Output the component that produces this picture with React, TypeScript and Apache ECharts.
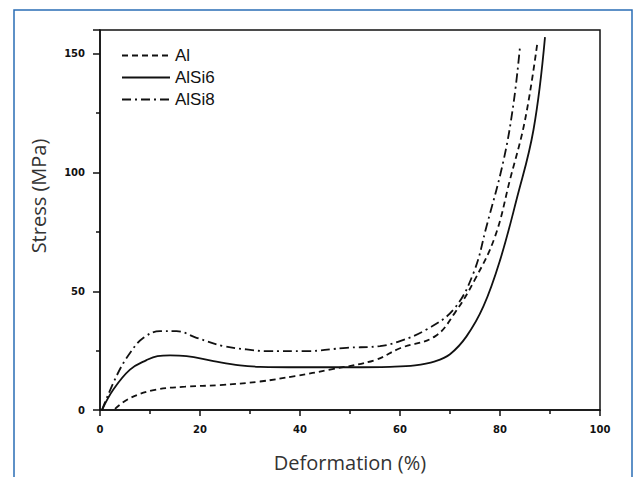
import React, { useEffect, useRef } from "react";
import * as echarts from "echarts";

const seriesNames = ["Al", "AlSi6", "AlSi8"];

const alX = [3, 6, 11, 17, 24, 32, 39, 46, 55, 60, 67, 71, 75, 79, 82, 85, 87.5];
const alY = [0.5, 5, 8.5, 9.8, 10.5, 12, 14.3, 17, 21, 26, 31, 41, 55, 73, 97, 122, 155];

const alSi6X = [0.4, 2.7, 6, 9.3, 11.5, 14, 17.3, 22.7, 28, 32, 40, 50, 58, 63, 67, 70, 73.3, 76.7, 80, 83.3, 86.7, 89];
const alSi6Y = [0, 8.7, 17, 21, 22.7, 23, 22.7, 20.6, 18.8, 18.2, 18, 18, 18.2, 18.8, 20.5, 23.5, 31, 43.7, 63, 88.5, 118, 157];

const alSi8X = [0.4, 3.3, 6, 8.7, 12, 15.3, 19.3, 24.7, 29.3, 33.3, 41.3, 49.3, 56, 60, 65.3, 70.7, 74.7, 77.3, 80.7, 82.7, 84];
const alSi8Y = [0, 14.3, 24, 30.4, 33.2, 33.2, 30.4, 26.9, 25.5, 24.8, 24.8, 26.2, 26.9, 29, 33.9, 42.3, 57.7, 77.3, 105, 129, 153];

const xTicks = [0, 20, 40, 60, 80, 100];
const yTicks = [0, 50, 100, 150];

const pairs = (xs: number[], ys: number[]) => xs.map((x, i) => [x, ys[i]]);

export default function App() {
  const ref = useRef<HTMLDivElement>(null);
  useEffect(() => {
    if (!ref.current) return;
    const chart = echarts.init(ref.current, undefined, { renderer: "svg" });
    const tickLabel = {
      fontSize: 10,
      fontWeight: "bold" as const,
      fontFamily: "DejaVu Sans",
      color: "#111",
    };
    const lineSeries = (name: string, data: number[][], type: any) => ({
      name,
      type: "line",
      data,
      smooth: 0.4,
      symbol: "none",
      showSymbol: false,
      lineStyle: { color: "#111", width: 1.8, type },
      itemStyle: { color: "#111" },
    });
    chart.setOption({
      animation: false,
      backgroundColor: "#fff",
      grid: {
        left: 100,
        top: 30,
        right: 34,
        bottom: 66,
        show: true,
        borderColor: "#111",
        borderWidth: 1.5,
      },
      legend: {
        orient: "vertical",
        left: 116,
        top: 42,
        itemWidth: 48,
        itemHeight: 14,
        itemGap: 5,
        itemStyle: { opacity: 0 },
        textStyle: { fontSize: 17, fontFamily: "Liberation Sans", color: "#111" },
        data: seriesNames,
      },
      xAxis: {
        type: "value",
        min: xTicks[0],
        max: xTicks[xTicks.length - 1],
        interval: 20,
        name: "Deformation (%)",
        nameLocation: "middle",
        nameGap: 42,
        nameTextStyle: { fontSize: 20, fontFamily: "Open Sans", color: "#333" },
        axisLine: { lineStyle: { color: "#111", width: 1.5 } },
        axisTick: { show: true, length: 6, lineStyle: { color: "#111", width: 1.5 } },
        minorTick: { show: true, splitNumber: 2, length: 4, lineStyle: { color: "#111", width: 1.5 } },
        splitLine: { show: false },
        axisLabel: { ...tickLabel, margin: 14 },
      },
      yAxis: {
        type: "value",
        min: yTicks[0],
        max: 160,
        interval: 50,
        axisLine: { show: true, lineStyle: { color: "#111", width: 1.5 } },
        axisTick: { show: true, length: 7, lineStyle: { color: "#111", width: 1.5 } },
        minorTick: { show: true, splitNumber: 2, length: 4, lineStyle: { color: "#111", width: 1.5 } },
        splitLine: { show: false },
        axisLabel: { ...tickLabel, margin: 15, showMaxLabel: false },
      },
      graphic: [
        {
          type: "rect",
          shape: { x: 14, y: 10, width: 618, height: 480 },
          style: { fill: "none", stroke: "#2a6db5", lineWidth: 1.5 },
          silent: true,
        },
        {
          type: "text",
          x: 38,
          y: 196,
          rotation: Math.PI / 2,
          style: {
            text: "Stress (MPa)",
            fontSize: 20,
            fontFamily: "Open Sans",
            fill: "#333",
            align: "center",
            verticalAlign: "middle",
          },
        },
      ],
      series: [
        lineSeries("Al", pairs(alX, alY), [6, 4]),
        lineSeries("AlSi6", pairs(alSi6X, alSi6Y), "solid"),
        lineSeries("AlSi8", pairs(alSi8X, alSi8Y), [9, 4, 2, 4]),
      ],
    });
    return () => chart.dispose();
  }, []);
  return (
    <div
      ref={ref}
      style={{ position: "absolute", left: 0, top: 0, width: 634, height: 477 }}
    />
  );
}
